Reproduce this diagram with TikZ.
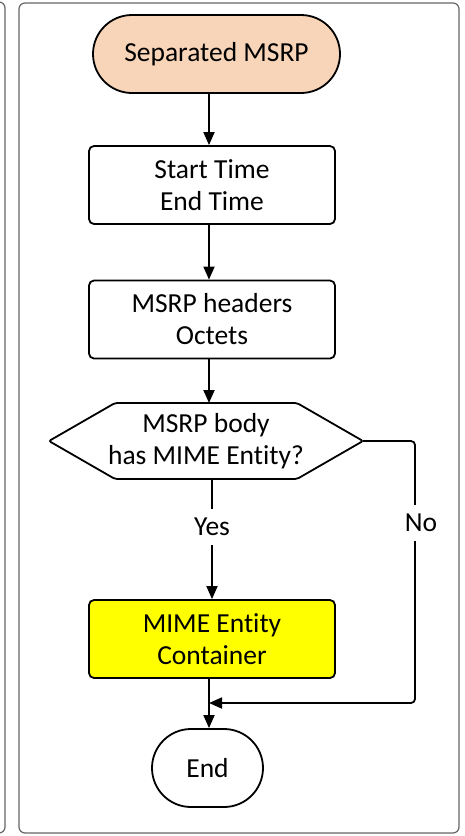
\documentclass[tikz,border=0pt]{standalone}
\usepackage{fontspec}
\setmainfont{Carlito}[Ligatures=NoCommon]
\usetikzlibrary{arrows.meta}
\definecolor{peach}{HTML}{F8D5B8}
\definecolor{boxyellow}{HTML}{FFFF00}
\tikzset{
  frame/.style={draw=black!60, line width=1.2pt, rounded corners=6pt},
  terminal/.style={draw, line width=1.8pt, rounded corners=39pt, minimum height=78pt, align=center},
  process/.style={draw, line width=1.8pt, rounded corners=5pt, minimum width=246pt, minimum height=78pt, align=center},
  flow/.style={line width=1.8pt, -{Triangle[length=13pt,width=11pt]}},
  lbl/.style={fill=white, inner xsep=2pt, inner ysep=9pt}
}
\begin{document}
\begin{tikzpicture}[x=1pt,y=-1pt,font=\fontsize{27.5}{32}\selectfont]
\useasboundingbox (0,0) rectangle (464,836);
% panel frames
\draw[frame] (-30,2) rectangle (5,833);
\draw[frame] (19,3) rectangle (459,833);
\coordinate (axis) at (209,0);
\coordinate (noX) at (415,0);
\coordinate (join) at (209,703);
\node[terminal, fill=peach, minimum width=247pt] (start) at (216.5,54) {Separated MSRP};
\node[process] (times) at (212,185) {Start Time\\End Time};
\node[process] (hdrs) at (212,319.5) {MSRP headers\\Octets};
\node[inner sep=0pt, align=center] (dec) at (206,441) {MSRP body\\has MIME Entity?};
\draw[line width=1.8pt, rounded corners=2pt]
  ([shift={(-91,-38)}]dec.center) -- ([shift={(91,-38)}]dec.center)
  -- ([shift={(157,0)}]dec.center) -- ([shift={(91,38)}]dec.center)
  -- ([shift={(-91,38)}]dec.center) -- ([shift={(-157,0)}]dec.center) -- cycle;
\coordinate (decN) at ([yshift=38pt]dec.center);
\coordinate (decS) at ([yshift=-38pt]dec.center);
\coordinate (decR) at ([xshift=157pt]dec.center);
\node[process, fill=boxyellow] (mime) at (212,639) {MIME Entity\\Container};
\node[terminal, minimum width=111pt] (end) at (207.5,768) {End};
% arrows
\draw[flow] (start.south -| axis) -- (times.north -| axis);
\draw[flow] (times.south -| axis) -- (hdrs.north -| axis);
\draw[flow] (hdrs.south -| axis) -- (decN -| axis);
\draw[flow] (decS -| mime.north) -- node[lbl, pos=0.4] (yes) {Yes} (mime.north);
\draw[flow] (mime.south -| axis) -- (end.north -| axis);
\draw[flow, rounded corners=4pt] (decR) -- (decR -| noX) -- (noX |- join) -- (join);
\node[lbl] (no) at (421,523) {No};
\end{tikzpicture}
\end{document}
